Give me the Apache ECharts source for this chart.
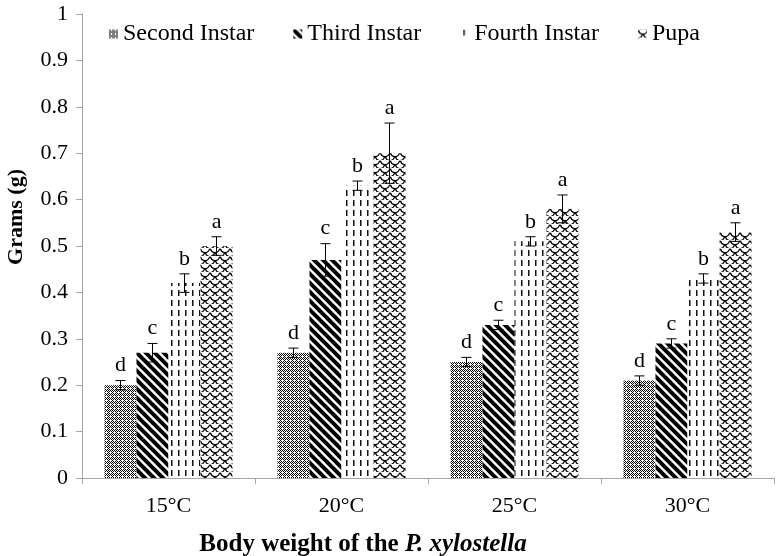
<!DOCTYPE html>
<html><head><meta charset="utf-8">
<script src="https://cdn.jsdelivr.net/npm/echarts@6/dist/echarts.min.js"></script>
<style>html,body{margin:0;padding:0;background:#fff}#c{width:776px;height:556px}</style>
</head><body><div id="c"></div>
<script>
const categories = ['15°C', '20°C', '25°C', '30°C'];
const seriesNames = ['Second Instar', 'Third Instar', 'Fourth Instar', 'Pupa'];
const secondInstar = [0.20, 0.27, 0.25, 0.21];
const thirdInstar = [0.27, 0.47, 0.33, 0.29];
const fourthInstar = [0.42, 0.63, 0.51, 0.43];
const pupa = [0.50, 0.70, 0.58, 0.53];
const secondErr = [0.01, 0.01, 0.01, 0.01];
const thirdErr = [0.02, 0.035, 0.01, 0.01];
const fourthErr = [0.02, 0.01, 0.01, 0.01];
const pupaErr = [0.02, 0.065, 0.03, 0.02];
const letters = ['d', 'c', 'b', 'a'];
const yMin = 0, yMax = 1, yStep = 0.1;

const FONT = '"Liberation Serif", "Times New Roman", serif';

function makePattern(w, h, draw) {
  const c = document.createElement('canvas');
  c.width = w; c.height = h;
  const ctx = c.getContext('2d');
  ctx.fillStyle = '#fff';
  ctx.fillRect(0, 0, w, h);
  draw(ctx, w, h);
  return { image: c, repeat: 'repeat' };
}
const patSecond = makePattern(4, 4, (ctx) => {
  ctx.fillStyle = '#000';
  for (let x = 0; x < 4; x++) for (let y = 0; y < 4; y++) {
    if ((x + y) % 4 === 0 || (x - y + 4) % 4 === 0 || (x === 0 && y === 2)) ctx.fillRect(x, y, 1, 1);
  }
});
const patThird = makePattern(9, 9, (ctx) => {
  ctx.strokeStyle = '#000'; ctx.lineWidth = 4;
  [-9, 0, 9].forEach(k => { ctx.beginPath(); ctx.moveTo(k - 3, -3); ctx.lineTo(k + 12, 12); ctx.stroke(); });
});
const patFourth = makePattern(7, 10, (ctx) => {
  ctx.fillStyle = '#111';
  ctx.fillRect(3, 0, 1.5, 6);
});
const patPupa = makePattern(10, 8, (ctx) => {
  ctx.strokeStyle = '#000'; ctx.lineWidth = 1.2;
  [[5, 0], [0, 4], [10, 4], [5, 8]].forEach(([cx, cy]) => {
    ctx.beginPath(); ctx.arc(cx, cy, 4.6, 0.15, Math.PI - 0.15); ctx.stroke();
  });
});

const values = [secondInstar, thirdInstar, fourthInstar, pupa];
const errs = [secondErr, thirdErr, fourthErr, pupaErr];
const pats = [patSecond, patThird, patFourth, patPupa];
const GAP = 0.26;

const errData = [];
values.forEach((arr, si) => arr.forEach((v, ci) => errData.push([ci, si, v, errs[si][ci]])));

const chart = echarts.init(document.getElementById('c'), null, { renderer: 'canvas' });
const barSeries = seriesNames.map((name, si) => ({
  name, type: 'bar', data: values[si],
  barGap: '0%', barCategoryGap: (GAP * 100) + '%',
  itemStyle: { color: pats[si] },
  emphasis: { disabled: true }
}));

chart.setOption({
  animation: false,
  textStyle: { fontFamily: FONT },
  grid: { left: 82, right: 2, top: 14, bottom: 78, containLabel: false },
  legend: {
    top: 22, left: 109, padding: 0, icon: 'rect', itemWidth: 9, itemHeight: 9, itemGap: 39,
    textStyle: { fontFamily: FONT, fontSize: 24, color: '#000' },
    data: seriesNames
  },
  xAxis: {
    type: 'category', data: categories,
    axisLine: { lineStyle: { color: '#a6a6a6', width: 1 } },
    axisTick: { show: true, length: 6, lineStyle: { color: '#a6a6a6' } },
    axisLabel: { fontFamily: FONT, fontSize: 22, color: '#000', margin: 17 }
  },
  yAxis: {
    type: 'value', min: yMin, max: yMax, interval: yStep,
    axisLine: { show: true, lineStyle: { color: '#a6a6a6', width: 1 } },
    axisTick: { show: true, length: 6, lineStyle: { color: '#a6a6a6' } },
    splitLine: { show: false },
    axisLabel: { fontFamily: FONT, fontSize: 22, color: '#000', margin: 14 }
  },
  graphic: [
    { type: 'text', x: 363, y: 545, style: {
        rich: { b: { fontFamily: FONT, fontSize: 25, fontWeight: 'bold', fill: '#000' }, bi: { fontFamily: FONT, fontSize: 25, fontWeight: 'bold', fontStyle: 'italic', fill: '#000' } },
        text: '{b|Body weight of the }{bi|P. xylostella}', align: 'center', verticalAlign: 'middle' } },
    { type: 'text', x: 16, y: 217, rotation: Math.PI / 2, style: {
        text: 'Grams (g)', font: 'bold 22px ' + FONT, fill: '#000', align: 'center', verticalAlign: 'middle' } }
  ],
  series: barSeries.concat([{
    type: 'custom', name: 'err', data: errData, z: 5, silent: true,
    encode: { x: 0, y: 2 },
    renderItem: function (params, api) {
      const ci = api.value(0), si = api.value(1), v = api.value(2), e = api.value(3);
      const catW = api.size([1, 0])[0];
      const groupW = catW * (1 - GAP);
      const bw = groupW / 4;
      const c = api.coord([ci, v]);
      const x = c[0] - groupW / 2 + bw * (si + 0.5);
      const yHi = api.coord([ci, v + e])[1];
      const yLo = api.coord([ci, v - e])[1];
      const cap = 5;
      const st = { stroke: '#000', lineWidth: 1 };
      return { type: 'group', children: [
        { type: 'line', shape: { x1: x, y1: yLo, x2: x, y2: yHi }, style: st },
        { type: 'line', shape: { x1: x - cap, y1: yHi, x2: x + cap, y2: yHi }, style: st },
        { type: 'line', shape: { x1: x - cap, y1: yLo, x2: x + cap, y2: yLo }, style: st },
        { type: 'text', x: x, y: yHi - 4, style: { text: letters[si], font: '22px ' + FONT, fill: '#000', align: 'center', verticalAlign: 'bottom' } }
      ] };
    }
  }])
});
</script></body></html>
